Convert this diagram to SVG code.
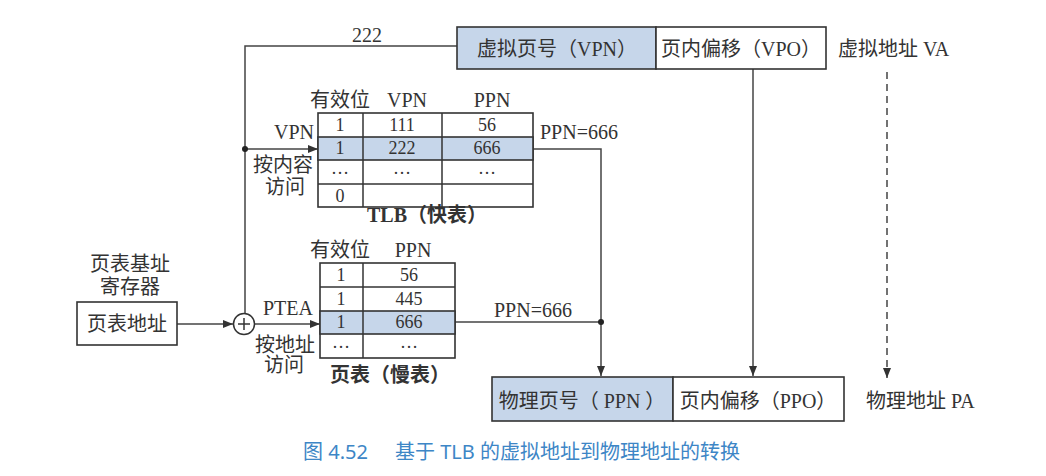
<svg xmlns="http://www.w3.org/2000/svg" width="1046" height="476" viewBox="0 0 1046 476">
<style>
text{font-family:"Liberation Serif","Noto Sans CJK SC",serif;fill:#333;font-size:20px}
.m{text-anchor:middle}
.e{text-anchor:end}
.b{font-weight:bold}
.d{font-size:18px}
.box{fill:#fff;stroke:#333;stroke-width:1.6}
.hl{fill:#c6d6ea;stroke:#333;stroke-width:1.6}
.ln{fill:none;stroke:#444;stroke-width:1.5}
.grid{fill:none;stroke:#333;stroke-width:1.5}
.cap{font-family:"Noto Sans","Noto Sans CJK SC",sans-serif;fill:#3d86c6;font-size:20px}
</style>
<defs>
<marker id="ah" viewBox="0 0 10 8" refX="10" refY="4" markerWidth="10" markerHeight="8" markerUnits="userSpaceOnUse" orient="auto">
<path d="M0,0 L10,4 L0,8 z" fill="#333"/>
</marker>
</defs>
<rect width="1046" height="476" fill="#fff"/>

<g id="connectors">
<polyline class="ln" points="457,46 245,46 245,314"/>
<line class="ln" x1="245" y1="149" x2="318" y2="149" marker-end="url(#ah)"/>
<polyline class="ln" points="533,149 601,149 601,376" marker-end="url(#ah)"/>
<line class="ln" x1="455" y1="322" x2="601" y2="322"/>
<line class="ln" x1="177" y1="324" x2="233" y2="324" marker-end="url(#ah)"/>
<line class="ln" x1="255" y1="324" x2="320" y2="324" marker-end="url(#ah)"/>
<line class="ln" x1="753" y1="69" x2="753" y2="376" marker-end="url(#ah)"/>
<line class="ln" x1="887" y1="72" x2="887" y2="378" stroke-dasharray="7,5" marker-end="url(#ah)"/>
<circle cx="245" cy="149" r="3" fill="#222"/>
<circle cx="601" cy="322" r="3" fill="#222"/>
<text x="367" y="42" class="m">222</text>
<text x="540" y="139">PPN=666</text>
<text x="494" y="317">PPN=666</text>
<text x="314" y="139" class="e">VPN</text>
<text x="283" y="172" class="m">按内容</text>
<text x="285" y="194" class="m">访问</text>
<text x="313" y="315" class="e">PTEA</text>
<text x="285" y="352" class="m">按地址</text>
<text x="284" y="372" class="m">访问</text>
</g>

<g id="va">
<rect class="hl" x="457" y="27" width="199" height="42"/>
<rect class="box" x="656" y="27" width="170" height="42"/>
<text x="557" y="56" class="m">虚拟页号（VPN）</text>
<text x="741" y="56" class="m">页内偏移（VPO）</text>
<text x="838" y="56">虚拟地址 VA</text>
</g>

<g id="tlb">
<rect class="box" x="318" y="113" width="215" height="94"/>
<rect class="hl" x="318" y="137" width="215" height="23"/>
<line class="grid" x1="318" y1="184" x2="533" y2="184"/>
<line class="grid" x1="363" y1="113" x2="363" y2="207"/>
<line class="grid" x1="442" y1="113" x2="442" y2="207"/>
<text x="340" y="107" class="m">有效位</text>
<text x="407" y="107" class="m">VPN</text>
<text x="492" y="107" class="m">PPN</text>
<text x="340" y="131" class="m d">1</text>
<text x="402" y="131" class="m d">111</text>
<text x="487" y="131" class="m d">56</text>
<text x="340" y="154" class="m d">1</text>
<text x="402" y="154" class="m d">222</text>
<text x="487" y="154" class="m d">666</text>
<text x="340" y="174" class="m d">…</text>
<text x="402" y="174" class="m d">…</text>
<text x="487" y="174" class="m d">…</text>
<text x="340" y="202" class="m d">0</text>
<text x="367" y="222" class="b" font-size="19">TLB（快表）</text>
</g>

<g id="ptbr">
<text x="130" y="271" class="m">页表基址</text>
<text x="130" y="294" class="m">寄存器</text>
<rect class="box" x="77" y="302" width="100" height="43"/>
<text x="127" y="331" class="m">页表地址</text>
</g>

<g id="adder">
<circle cx="244" cy="324" r="10.5" fill="#fff" stroke="#333" stroke-width="1.5"/>
<line class="grid" x1="238" y1="324" x2="250" y2="324"/>
<line class="grid" x1="244" y1="318" x2="244" y2="330"/>
</g>

<g id="pagetable">
<rect class="box" x="320" y="263" width="135" height="95"/>
<rect class="hl" x="320" y="311" width="135" height="23"/>
<line class="grid" x1="320" y1="287" x2="455" y2="287"/>
<line class="grid" x1="363" y1="263" x2="363" y2="358"/>
<text x="340" y="257" class="m">有效位</text>
<text x="413" y="257" class="m">PPN</text>
<text x="341" y="281" class="m d">1</text>
<text x="409" y="281" class="m d">56</text>
<text x="341" y="305" class="m d">1</text>
<text x="409" y="305" class="m d">445</text>
<text x="341" y="328" class="m d">1</text>
<text x="409" y="328" class="m d">666</text>
<text x="341" y="348" class="m d">…</text>
<text x="409" y="348" class="m d">…</text>
<text x="330" y="382" class="b" font-size="19">页表（慢表）</text>
</g>

<g id="pa">
<rect class="hl" x="492" y="377" width="181" height="44"/>
<rect class="box" x="673" y="377" width="171" height="44"/>
<text x="582" y="408" class="m">物理页号（ PPN ）</text>
<text x="758" y="408" class="m">页内偏移（PPO）</text>
<text x="866" y="408">物理地址 PA</text>
</g>

<g id="caption">
<text class="cap" y="459"><tspan x="303">图 4.52</tspan><tspan x="395">基于 TLB 的虚拟地址到物理地址的转换</tspan></text>
</g>
</svg>
